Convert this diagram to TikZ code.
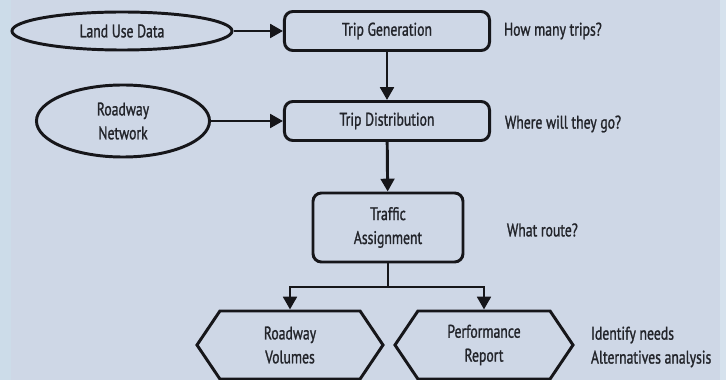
\documentclass[tikz,border=0pt]{standalone}
\usepackage{fontspec}
\setmainfont{PT Sans}[FakeStretch=0.75, FakeBold=1.2]
\usepackage{tikz}
\usetikzlibrary{positioning,arrows.meta,shapes.geometric,shapes.symbols}
\definecolor{figbg}{RGB}{206,215,230}
\definecolor{figleft}{RGB}{204,220,233}
\definecolor{figright}{RGB}{214,226,237}
\definecolor{figink}{RGB}{22,22,26}
\definecolor{figtext}{RGB}{34,36,42}
\tikzset{
  figbox/.style={draw=figink, line width=2.1pt, rounded corners=6pt, align=center,
    font=\fontsize{13}{17}\selectfont, text=figtext, inner sep=2pt, fill=figbg},
  figellipse/.style={figbox, ellipse, rounded corners=0pt, inner sep=0pt},
  fighex/.style={figbox, signal, signal to=west and east, signal pointer angle=112,
    rounded corners=0pt, inner sep=0pt},
  figarrow/.style={-{Triangle[length=3.2mm, width=3.4mm]}, line width=2.1pt, draw=figink},
  figlabel/.style={font=\fontsize{13}{17}\selectfont, text=figtext, align=left, anchor=west},
}

\begin{document}
\begin{tikzpicture}[x=0.025cm, y=-0.025cm]
  \fill[figbg] (0,0) rectangle (726,380);
  \fill[figleft] (0,0) rectangle (11,380);
  \fill[figright] (720,0) rectangle (726,380);
  \useasboundingbox (0,0) rectangle (726,380);
  % main chain
  \node[figbox, minimum width=5.125cm, minimum height=0.975cm] (tgen) at (387,31) {Trip Generation};
  \node[figbox, minimum width=5.125cm, minimum height=0.975cm] (tdist) at (387,121) {Trip Distribution};
  \node[figbox, minimum width=3.75cm, minimum height=1.725cm] (tassign) at (388,227.5) {Traffic\\Assignment};
  % inputs
  \node[figellipse, minimum width=5.5cm, minimum height=0.95cm] (landuse) at (122,31) {Land Use Data};
  \node[figellipse, minimum width=4.325cm, minimum height=1.8cm] (rnet) at (123,121) {Roadway\\Network};
  % outputs
  \node[fighex, minimum width=4.65cm, minimum height=1.7cm] (rvol) at (290,345) {Roadway\\Volumes};
  \node[fighex, minimum width=4.45cm, minimum height=1.7cm] (perf) at (484,345) {Performance\\Report};
  \coordinate (split) at (388,287);
  \draw[figarrow] (landuse) -- (tgen);
  \draw[figarrow] (rnet) -- (tdist);
  \draw[figarrow] (tgen) -- (tdist);
  \draw[figarrow] (tdist) -- (tassign);
  \draw[line width=2.1pt, draw=figink] (tassign) -- (split);
  \draw[figarrow] (split) -| (rvol.north);
  \draw[figarrow] (split) -| (perf.north);
  % questions
  \node[figlabel] (qgen) at (499,31) {How many trips?};
  \node[figlabel] (qdist) at (500,124) {Where will they go?};
  \node[figlabel] (qassign) at (502,230) {What route?};
  \node[figlabel] (qperf) at (586,347) {Identify needs\\Alternatives analysis};
\end{tikzpicture}
\end{document}
